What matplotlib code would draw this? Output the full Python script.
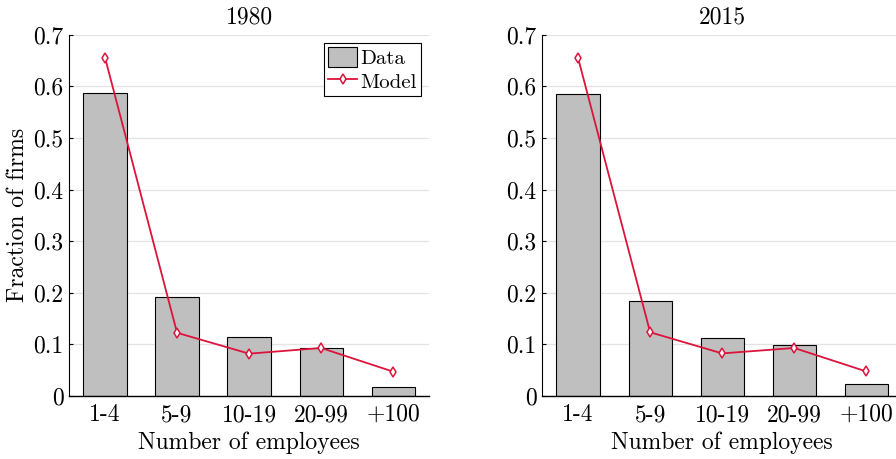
import numpy as np
import matplotlib
matplotlib.use('Agg')
import matplotlib.pyplot as plt

plt.rcParams['font.family'] = 'serif'
plt.rcParams['font.serif'] = ['cmr10']
plt.rcParams['mathtext.fontset'] = 'cm'
plt.rcParams['axes.unicode_minus'] = False

# data
categories = ['1-4', '5-9', '10-19', '20-99', '+100']
data_1980 = [0.588, 0.191, 0.114, 0.092, 0.0175]
model_1980 = [0.656, 0.122, 0.0815, 0.0925, 0.0466]
data_2015 = [0.586, 0.183, 0.1126, 0.0977, 0.022]
model_2015 = [0.655, 0.123, 0.082, 0.0925, 0.047]

panels = [('1980', data_1980, model_1980), ('2015', data_2015, model_2015)]
yticks = [0, 0.1, 0.2, 0.3, 0.4, 0.5, 0.6, 0.7]
ytick_labels = ['0', '0.1', '0.2', '0.3', '0.4', '0.5', '0.6', '0.7']

fig = plt.figure(figsize=(8.96, 4.59), dpi=100)
lefts = [0.077, 0.605]
line_color = '#dc143c'
fs = 17

for i, (title, bars, model) in enumerate(panels):
    ax = fig.add_axes([lefts[i], 0.138, 0.402, 0.786])
    x = np.arange(len(categories))
    b = ax.bar(x, bars, width=0.6, color='#bfbfbf', edgecolor='black',
               linewidth=0.8, label='Data', zorder=2)
    l, = ax.plot(x, model, color=line_color, linewidth=1.3, marker='d',
                 markersize=5.5, markerfacecolor='white', markeredgecolor=line_color,
                 markeredgewidth=1.1, label='Model', zorder=3)

    ax.set_xlim(-0.5, 4.5)
    ax.set_ylim(0, 0.7)
    ax.set_xticks(x)
    ax.set_xticklabels(categories)
    ax.set_yticks(yticks)
    ax.set_yticklabels(ytick_labels)
    ax.tick_params(axis='x', length=0, labelsize=fs, pad=6)
    ax.tick_params(axis='y', direction='in', length=3, labelsize=fs, pad=4)
    ax.yaxis.grid(True, color='#e3e3e3', linewidth=0.9, zorder=0)
    ax.set_axisbelow(True)
    ax.spines['top'].set_visible(False)
    ax.spines['right'].set_visible(False)
    ax.spines['left'].set_linewidth(0.8)
    ax.spines['bottom'].set_linewidth(1.0)

    ax.set_title(title, fontsize=fs, pad=8)
    ax.set_xlabel('Number of employees', fontsize=fs, labelpad=4)
    if i == 0:
        ax.set_ylabel('Fraction of firms', fontsize=fs, labelpad=3)
        leg = ax.legend([b, l], ['Data', 'Model'], loc='upper right',
                        fontsize=15, fancybox=False,
                        framealpha=1, edgecolor='black', borderpad=0.2,
                        handlelength=1.4, handleheight=1.1, handletextpad=0.15,
                        borderaxespad=0.4, labelspacing=0.1)
        leg.get_frame().set_linewidth(0.8)

plt.savefig('out.png', dpi=100)
